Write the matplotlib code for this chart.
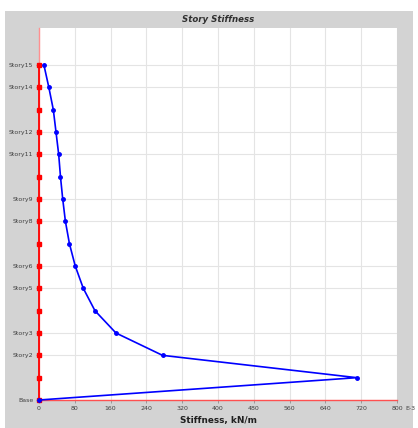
import matplotlib
matplotlib.use("Agg")
import matplotlib.pyplot as plt
from matplotlib.patches import Rectangle

# story levels from Base (0) up to Story15
levels = list(range(16))
stiffness = [0, 710, 276, 172, 125, 99, 81, 68, 59, 53, 48, 44, 38, 32, 22, 11]

tick_levels = [0, 2, 3, 5, 6, 8, 9, 11, 12, 14, 15]
tick_names = ["Base", "Story2", "Story3", "Story5", "Story6", "Story8",
              "Story9", "Story11", "Story12", "Story14", "Story15"]
x_ticks = [0, 80, 160, 240, 320, 400, 480, 560, 640, 720, 800]

fig = plt.figure(figsize=(4.18, 4.28), dpi=100)
fig.patch.set_facecolor("white")
# gray panel behind the plot
fig.add_artist(Rectangle((5 / 418, 0), 408 / 418, 417 / 428,
                         transform=fig.transFigure, facecolor="#d3d3d3",
                         edgecolor="none", zorder=-1))

ax = fig.add_axes([39 / 418, 28 / 428, 358 / 418, 372 / 428])
ax.set_zorder(1)
ax.set_facecolor("white")

ax.set_xlim(0, 800)
ax.set_ylim(0, 16.66)

ax.set_xticks(x_ticks)
ax.set_xticklabels([str(v) for v in x_ticks], fontsize=4.5, color="#404040")
ax.set_yticks(tick_levels)
ax.set_yticklabels(tick_names, fontsize=4.5, color="#404040")
ax.tick_params(axis="both", length=2, width=0.5, color="#808080", pad=2)
ax.grid(True, color="#e4e4e4", linewidth=0.8)
ax.set_axisbelow(True)

for side in ["top", "right"]:
    ax.spines[side].set_visible(False)
ax.spines["left"].set_color("#ff9090")
ax.spines["left"].set_linewidth(1.0)
ax.spines["bottom"].set_color("#ff5050")
ax.spines["bottom"].set_linewidth(1.0)

# red reference line on the story axis
ax.plot([0] * len(levels), levels, color="red", linewidth=1.3,
        marker="s", markersize=2.8, clip_on=False, zorder=3)

# stiffness profile
ax.plot(stiffness, levels, color="#0000ff", linewidth=1.2,
        marker="o", markersize=2.5, clip_on=False, zorder=4)

# unit multiplier next to the last x tick
fig.text(405 / 418, 1 - 409 / 428, "E-3", fontsize=4.5,
         color="#404040", ha="left", va="center")

fig.text(218 / 418, 1 - 19 / 428, "Story Stiffness", fontsize=6.2,
         fontweight="bold", fontstyle="italic", color="#303030",
         ha="center", va="center")
fig.text(219 / 418, 1 - 421 / 428, "Stiffness, kN/m", fontsize=6.4,
         fontweight="bold", color="#202020", ha="center", va="center")

fig.savefig("out.png", dpi=100, facecolor=fig.get_facecolor())
